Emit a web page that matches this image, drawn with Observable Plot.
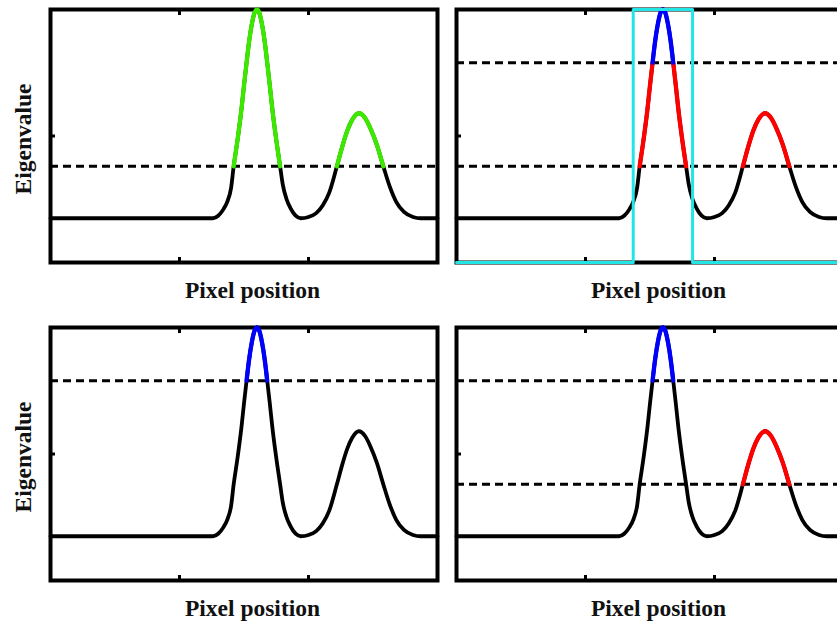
<!DOCTYPE html>
<html><head><meta charset="utf-8">
<script src="https://cdn.jsdelivr.net/npm/d3@7"></script>
<script src="https://cdn.jsdelivr.net/npm/@observablehq/plot@0.6"></script>
<style>
body{margin:0;background:#fff;}
#wrap{position:relative;width:837px;height:628px;overflow:hidden;background:#fff;}
.panel{position:absolute;}
#labels{position:absolute;left:0;top:0;pointer-events:none;}
</style></head><body><div id="wrap"></div>
<script>
// ---- data ----
const curveX = [0, 126, 130, 134, 137, 140, 142, 145, 148, 150, 152, 154, 156, 158, 160, 162, 164, 166, 168, 170, 172, 175, 178, 180, 183, 186, 190, 194, 200, 206, 211, 216, 222, 226, 230, 234, 239, 244, 248, 253, 258, 263, 268, 274, 281, 287, 300];
const curveY = [35, 35, 37, 42, 48, 59, 76, 97, 121, 140, 158, 175, 188, 197, 200, 197, 188, 175, 158, 140, 121, 97, 76, 62, 50, 43, 37, 35, 36, 39, 45, 55, 76, 91, 104, 113, 118, 114, 106, 93, 76, 60, 48, 40, 36, 35, 35];
const xTicks = [100, 200];
const yTicks = [100];
const xDomain = [0, 300];
const yDomain = [0, 200];
const lowThreshold = 76;
const highThreshold = 158;
const valleyX = 194;
const windowX = [0, 137, 137, 183, 183, 300];
const windowY = [0, 0, 200, 200, 0, 0];
const xLabel = "Pixel position";
const yLabel = "Eigenvalue";
const palette = {green: "#3ce800", red: "#ff0000", blue: "#0000ff", cyan: "#22e6e6", black: "#000000"};

const panels = [
  {left: 40, top: -1, thresholds: [lowThreshold], window: false, yLabel: true,
   bands: [{lo: lowThreshold, hi: Infinity, peaks: [1, 2], color: "green"}]},
  {left: 446, top: -1, thresholds: [lowThreshold, highThreshold], window: true, yLabel: false,
   bands: [{lo: lowThreshold, hi: highThreshold, peaks: [1, 2], color: "red"},
           {lo: highThreshold, hi: Infinity, peaks: [1, 2], color: "blue"}]},
  {left: 40, top: 317, thresholds: [highThreshold], window: false, yLabel: true,
   bands: [{lo: highThreshold, hi: Infinity, peaks: [1, 2], color: "blue"}]},
  {left: 446, top: 317, thresholds: [lowThreshold, highThreshold], window: false, yLabel: false,
   bands: [{lo: lowThreshold, hi: Infinity, peaks: [2], color: "red"},
           {lo: highThreshold, hi: Infinity, peaks: [1], color: "blue"}]}
];

// ---- build tables ----
const pts = curveX.map((x, i) => ({x, y: curveY[i], peak: x <= valleyX ? 1 : 2}));
const windowPts = windowX.map((x, i) => ({x, y: windowY[i]}));

function bandSegments(band) {
  let run = 0, prev = false;
  const out = [];
  pts.forEach(p => {
    const inside = p.y >= band.lo && p.y <= band.hi && band.peaks.includes(p.peak);
    if (inside) { if (!prev) run++; out.push({...p, run}); }
    prev = inside;
  });
  return out;
}

const wrap = document.getElementById("wrap");
const PW = 407, PH = 273, M = 10;

panels.forEach(p => {
  const marks = [
    Plot.frame({stroke: "black", strokeWidth: 4}),
    Plot.axisX(xTicks, {anchor: "bottom", tickSize: -5, strokeWidth: 3, tickFormat: () => "", label: null}),
    Plot.axisX(xTicks, {anchor: "top", tickSize: -5, strokeWidth: 3, tickFormat: () => "", label: null}),
    Plot.axisY(yTicks, {anchor: "left", tickSize: -5, strokeWidth: 3, tickFormat: () => "", label: null}),
    Plot.ruleY(p.thresholds, {stroke: "black", strokeWidth: 3, strokeDasharray: "8,5"}),
    Plot.line(pts, {x: "x", y: "y", stroke: palette.black, strokeWidth: 3.8, curve: "monotone-x"}),
    ...p.bands.map(b => Plot.line(bandSegments(b), {x: "x", y: "y", z: "run", stroke: palette[b.color], strokeWidth: 4.3, curve: "monotone-x"}))
  ];
  if (p.window) marks.push(Plot.line(windowPts, {x: "x", y: "y", stroke: palette.cyan, strokeWidth: 3}));
  const svg = Plot.plot({
    width: PW, height: PH,
    marginLeft: M, marginRight: M, marginTop: M, marginBottom: M,
    x: {domain: xDomain, axis: null},
    y: {domain: yDomain, axis: null},
    style: {background: "transparent", overflow: "visible"},
    marks
  });
  svg.classList.add("panel");
  svg.style.left = p.left + "px";
  svg.style.top = p.top + "px";
  wrap.appendChild(svg);
});

// ---- axis titles ----
const lab = d3.select(wrap).append("svg").attr("id", "labels").attr("width", 837).attr("height", 628)
  .style("font-family", "'Liberation Serif','Times New Roman',serif").style("font-weight", "bold").style("font-size", "23.5px").style("fill", "#111");
panels.forEach(p => {
  const cx = p.left + M + 193.5 + 9;
  const base = p.top + PH - M + 36;
  lab.append("text").attr("x", cx).attr("y", base).attr("text-anchor", "middle").text(xLabel);
  if (p.yLabel) {
    const cy = p.top + M + 130;
    lab.append("text").attr("transform", `translate(31,${cy}) rotate(-90)`).attr("text-anchor", "middle").text(yLabel);
  }
});
</script>
</body></html>
